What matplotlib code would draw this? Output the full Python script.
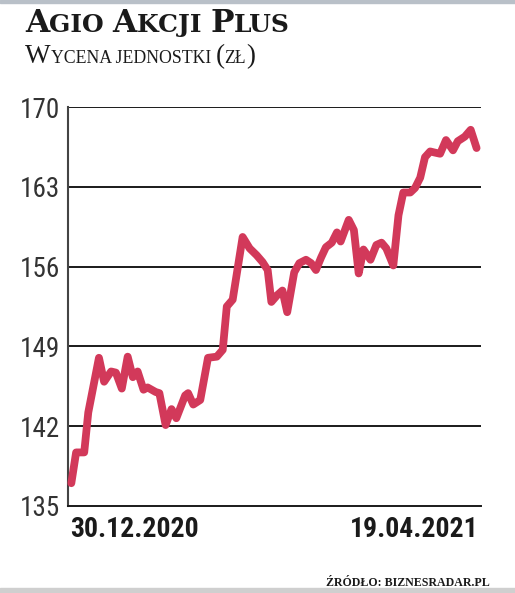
import numpy as np
import matplotlib.pyplot as plt
from matplotlib.patches import Rectangle
from matplotlib import font_manager

# data: days since 30.12.2020 and unit value (zl)
days = [0, 1.3, 3.5, 4.6, 7.5, 8.9, 10.8, 12.1, 13.7, 15.3, 16.7, 18.0, 19.6, 20.7,
        22.9, 23.9, 25.6, 27.2, 28.5, 30.9, 31.7, 33.1, 35.0, 37.1, 39.5, 41.1,
        42.2, 43.8, 46.5, 48.4, 50.3, 51.9, 53.3, 54.3, 55.9, 57.3, 58.6, 60.5,
        61.9, 63.7, 65.1, 66.4, 67.8, 69.1, 70.7, 72.1, 73.1, 75.3, 76.7, 78.0,
        79.3, 81.2, 82.8, 84.2, 85.5, 87.4, 88.8, 90.1, 92.0, 93.3, 94.7, 96.0,
        97.4, 98.7, 100.1, 101.7, 103.6, 104.9, 106.8, 108.4, 110]
values = [137.0, 139.7, 139.7, 143.2, 148.0, 145.9, 146.8, 146.7, 145.3, 148.1,
          146.3, 146.8, 145.2, 145.4, 145.0, 144.9, 142.1, 143.5, 142.7, 144.7,
          144.9, 143.9, 144.3, 148.0, 148.1, 148.7, 152.5, 153.1, 158.6, 157.6,
          157.0, 156.4, 155.7, 152.9, 153.5, 153.9, 152.0, 155.5, 156.3, 156.6,
          156.3, 155.7, 156.8, 157.7, 158.1, 159.0, 158.2, 160.1, 159.2, 155.4,
          157.5, 156.6, 157.9, 158.1, 157.6, 156.1, 160.5, 162.5, 162.5, 162.9,
          163.8, 165.6, 166.1, 166.0, 165.9, 167.1, 166.2, 167.0, 167.4, 168.0,
          166.4]
yticks = [135, 142, 149, 156, 163, 170]
date_labels = ["30.12.2020", "19.04.2021"]

title = "Agio Akcji Plus"
subtitle = "Wycena jednostki (zł)"
source = "Źródło: biznesradar.pl"

names = {f.name for f in font_manager.fontManager.ttflist}
narrow = "DejaVu Sans"
for cand in ["Liberation Sans Narrow", "Roboto Condensed", "Open Sans Condensed",
             "DejaVu Sans Condensed"]:
    if cand in names:
        narrow = cand
        break

W, H = 515, 593
fig = plt.figure(figsize=(W / 100, H / 100), dpi=100)
fig.patch.set_facecolor("white")

ax = fig.add_axes([68 / W, 1 - 506 / H, (481 - 68) / W, (506 - 107) / H])
ax.set_ylim(135, 170)
ax.set_xlim(-0.9, 111.2)
ax.plot(days, values, color="#d2395a", lw=5.6, solid_joinstyle="round",
        solid_capstyle="round", zorder=3, clip_on=False)

for v in yticks[1:]:
    ax.axhline(v, color="#1a1a1a", lw=1.4, zorder=1)

ax.set_yticks(yticks)
ax.set_yticklabels([str(v) for v in yticks], family=narrow, stretch="condensed",
                   fontsize=19.5, color="#333333")
ax.tick_params(axis="y", length=0, pad=6)
ax.set_xticks([])
for s in ["top", "right"]:
    ax.spines[s].set_visible(False)
ax.spines["left"].set_color("#444444")
ax.spines["left"].set_linewidth(1.5)
ax.spines["bottom"].set_color("#1a1a1a")
ax.spines["bottom"].set_linewidth(1.4)

fig.text(70 / W, 1 - 516 / H, date_labels[0], ha="left", va="top",
         family=narrow, stretch="condensed", fontweight="bold", fontsize=20,
         color="#1a1a1a")
fig.text(479 / W, 1 - 516 / H, date_labels[1], ha="right", va="top",
         family=narrow, stretch="condensed", fontweight="bold", fontsize=20,
         color="#1a1a1a")

renderer = fig.canvas.get_renderer()


def small_caps(x, y, s, big, small, **kw):
    # split into runs of upper-case / other characters and draw one after another
    runs = []
    for ch in s:
        is_big = ch.isupper() or ch in "()"
        if runs and runs[-1][1] == is_big:
            runs[-1][0] += ch
        else:
            runs.append([ch, is_big])
    for txt, is_big in runs:
        t = fig.text(x, y, txt.upper(), fontsize=big if is_big else small,
                     va="baseline", ha="left", **kw)
        bb = t.get_window_extent(renderer)
        x += bb.width / fig.bbox.width


small_caps(25 / W, 1 - 32 / H, title, 22.5, 18, family="DejaVu Serif",
           fontweight="bold", color="#1a1a1a")
small_caps(25 / W, 1 - 63 / H, subtitle, 19.5, 12.8, family="Liberation Serif",
           color="#1a1a1a")
fig.text(490 / W, 1 - 586 / H, source.upper(), ha="right", va="baseline",
         family="Liberation Serif", fontweight="bold", fontsize=8.6, color="#1a1a1a")

# frame bits of the scanned page
fig.patches.append(Rectangle((0, 1 - 3 / H), 1, 3 / H, transform=fig.transFigure,
                             color="#b9c0c8", zorder=0))
fig.patches.append(Rectangle((0, 0), 1, 5 / H, transform=fig.transFigure,
                             color="#cfcfcf", zorder=0))

fig.savefig("out.png", dpi=100, facecolor="white")
